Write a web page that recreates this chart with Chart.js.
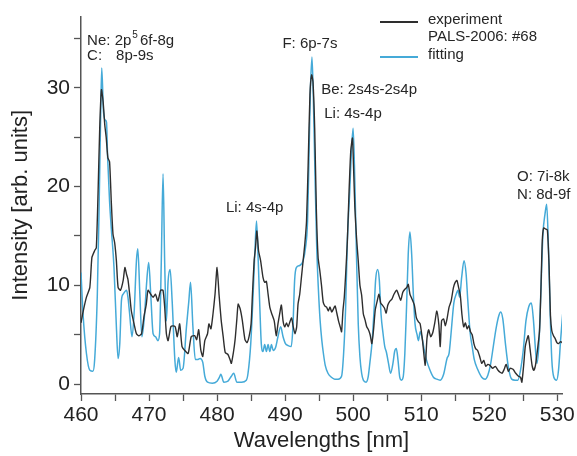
<!DOCTYPE html>
<html>
<head>
<meta charset="utf-8">
<script src="https://cdn.jsdelivr.net/npm/chart.js@4.4.1/dist/chart.umd.min.js"></script>
<style>
body { margin: 0; background: #fff; }
#spec { display: block; }
</style>
</head>
<body>
<canvas id="spec" width="577" height="456"></canvas>
<script>
// experiment, PALS-2006 shot #68
var expWl = [460.0,460.3,460.8,461.3,461.6,462.0,462.25,462.5,462.75,463.0,463.25,463.5,463.7,463.95,464.2,464.45,464.7,464.95,465.2,465.45,465.8,466.2,466.45,466.7,466.9,467.15,467.4,467.8,468.15,468.5,468.9,469.25,469.6,469.85,470.25,470.6,470.95,471.3,471.7,472.05,472.3,472.55,472.8,473.2,473.5,473.85,474.15,474.5,474.85,475.25,475.75,476.2,476.7,477.0,477.3,477.6,477.9,478.2,478.6,478.8,479.1,479.4,479.7,480.0,480.3,480.6,480.9,481.2,481.6,481.9,482.1,482.4,482.65,482.9,483.1,483.4,483.7,484.1,484.4,484.7,485.0,485.2,485.45,485.65,485.85,486.1,486.4,486.75,487.0,487.25,487.5,487.75,488.0,488.4,488.7,488.95,489.2,489.45,489.7,489.95,490.2,490.45,490.7,490.95,491.2,491.45,491.7,491.9,492.15,492.4,492.65,492.9,493.15,493.4,493.65,493.9,494.1,494.35,494.6,494.85,495.1,495.35,495.6,495.85,496.1,496.35,496.6,496.85,497.1,497.35,497.6,497.85,498.1,498.3,498.5,498.7,498.9,499.15,499.4,499.65,499.9,500.05,500.25,500.5,500.75,501.0,501.25,501.5,501.75,502.0,502.25,502.5,502.75,503.0,503.25,503.5,503.8,504.05,504.3,504.6,504.85,505.1,505.4,505.7,506.0,506.4,506.7,507.0,507.3,507.6,507.9,508.1,508.35,508.6,509.0,509.3,509.6,509.85,510.2,510.6,510.85,511.1,511.4,511.7,512.0,512.3,512.6,512.8,513.0,513.3,513.55,513.8,514.1,514.4,514.75,515.0,515.25,515.5,515.75,516.0,516.25,516.5,516.75,517.0,517.25,517.5,517.75,518.0,518.3,518.6,518.9,519.2,519.5,519.8,520.1,520.5,520.9,521.3,521.6,521.9,522.2,522.5,522.8,523.1,523.5,523.9,524.3,524.6,524.8,525.05,525.3,525.5,525.75,526.0,526.3,526.55,526.8,527.1,527.4,527.6,527.8,528.0,528.3,528.55,528.8,529.0,529.2,529.45,529.7,529.95,530.2,530.5,530.9];
var expInt = [6.2,7.3,8.8,9.8,12.8,13.5,13.8,19.2,25.9,29.8,28.6,26.2,25.0,22.9,22.5,18.5,15.2,14.3,12.5,9.8,9.5,10.5,11.8,11.1,10.6,9.1,7.4,6.1,5.1,4.9,5.1,6.8,8.1,9.5,9.1,8.8,9.1,8.4,9.5,9.5,7.8,5.1,4.4,5.8,5.9,5.8,4.8,6.1,3.8,3.4,3.1,4.8,4.9,4.5,5.5,3.5,2.8,4.4,5.1,6.1,5.6,7.1,9.1,11.8,9.0,6.5,4.8,3.2,3.0,2.5,2.1,3.2,4.5,6.5,8.1,7.6,6.5,4.5,4.2,4.8,6.1,9.1,12.5,13.8,15.5,13.5,12.5,10.8,10.3,10.4,9.1,7.8,7.2,6.4,4.9,6.1,7.1,8.0,6.4,5.8,6.2,5.8,6.3,6.7,5.8,5.1,5.8,8.1,9.1,10.8,12.5,14.2,16.5,22.5,29.3,31.3,30.6,25.9,17.5,12.8,11.5,10.0,8.3,7.9,7.8,7.4,7.8,7.3,7.6,7.9,7.2,6.4,5.8,5.3,7.4,8.8,11.1,14.5,19.5,23.6,24.9,22.2,17.9,14.8,12.5,10.0,9.0,7.1,6.5,5.8,5.5,5.0,4.1,5.5,7.5,8.3,9.1,8.2,8.0,7.7,7.2,8.0,8.4,8.6,9.1,9.5,9.0,8.5,9.3,9.6,9.8,10.1,9.1,8.7,8.0,6.7,6.3,6.1,4.4,1.9,4.6,5.5,4.8,5.2,6.2,7.4,6.0,3.8,6.4,6.6,5.9,6.6,7.8,8.4,9.8,10.3,10.5,9.8,9.0,7.0,5.8,6.2,5.6,5.9,5.3,5.0,4.1,3.6,3.4,2.8,2.1,2.4,1.8,2.0,1.9,1.6,1.8,1.4,1.2,1.1,1.5,2.0,1.3,1.6,1.5,1.1,0.8,0.7,0.2,1.8,3.8,4.4,4.9,3.6,1.9,1.4,1.9,3.5,5.4,9.5,14.5,15.8,15.7,15.6,12.0,7.0,5.4,4.9,4.6,4.2,4.1,4.3,4.1];

// fitting
var fitWl = [460.0,460.3,460.8,461.3,461.75,462.0,462.4,462.65,462.9,463.05,463.3,463.6,463.75,463.9,464.2,464.45,464.85,465.2,465.45,465.7,465.95,466.2,466.7,466.9,467.15,467.5,467.8,468.15,468.35,468.65,468.95,469.35,469.6,469.95,470.25,470.6,470.95,471.3,471.55,471.8,472.06,472.3,472.55,472.8,473.1,473.4,473.8,474.0,474.35,474.65,475.0,475.5,475.85,476.1,476.45,476.8,477.2,477.5,477.9,478.2,478.6,479.3,480.0,480.35,480.55,481.0,481.6,482.1,482.45,482.9,483.6,484.3,484.55,484.95,485.3,485.55,485.8,486.05,486.3,486.5,486.75,487.0,487.25,487.5,487.75,488.0,488.25,488.6,488.95,489.35,489.7,490.05,490.45,490.9,491.15,491.4,491.65,492.15,492.65,493.0,493.3,493.5,493.7,493.95,494.15,494.4,494.65,494.9,495.15,495.4,495.65,495.9,496.3,496.8,497.3,497.8,498.3,498.6,498.9,499.15,499.5,499.75,500.0,500.25,500.5,500.75,501.0,501.25,501.5,501.9,502.2,502.45,502.8,503.1,503.3,503.6,503.85,504.1,504.4,504.65,504.9,505.2,505.5,505.85,506.1,506.35,506.6,506.85,507.1,507.35,507.6,507.85,508.1,508.35,508.6,508.85,509.1,509.4,509.6,509.85,510.1,510.45,510.8,511.3,511.8,512.3,512.8,513.3,513.8,514.1,514.3,514.5,514.8,515.2,515.4,515.65,515.95,516.3,516.6,516.85,517.2,517.5,517.8,518.3,518.9,519.4,519.8,520.2,520.6,521.0,521.4,521.7,522.0,522.4,522.8,523.3,523.8,524.2,524.6,525.0,525.4,525.8,526.2,526.5,526.8,527.0,527.3,527.6,527.9,528.2,528.45,528.7,528.95,529.2,529.5,529.9,530.2,530.5,530.8];
var fitInt = [11.3,7.1,3.1,1.4,1.3,2.4,9.1,17.5,27.6,32.0,27.6,26.7,26.5,23.2,18.5,15.8,11.8,5.8,2.6,4.1,8.5,9.1,9.5,8.8,7.1,4.8,7.1,12.5,13.7,9.1,4.8,7.1,9.8,12.3,9.1,5.1,4.8,4.4,5.1,12.3,21.3,12.3,6.4,10.4,11.6,8.4,2.4,1.2,2.7,1.4,1.6,5.8,8.4,10.3,5.8,2.5,2.5,2.6,2.2,0.8,0.2,0.1,0.3,0.7,1.0,0.2,0.3,0.8,1.1,0.2,0.2,0.4,1.1,4.1,9.1,13.2,16.5,12.5,7.5,4.1,3.3,4.0,3.3,4.0,3.3,4.0,3.4,3.7,4.8,5.8,4.8,4.1,3.9,3.8,5.8,10.5,11.8,12.0,12.5,13.8,16.5,22.5,29.3,33.1,29.0,21.0,13.8,9.5,6.4,4.4,3.0,1.9,1.1,0.7,0.5,0.5,0.8,3.1,7.8,14.5,19.5,23.6,25.9,20.5,12.8,6.1,2.75,1.1,0.4,0.2,0.7,2.1,4.4,7.8,10.5,11.6,10.5,7.1,5.1,3.8,3.2,2.1,1.1,2.1,3.3,3.6,2.4,0.7,0.4,0.7,3.1,7.8,13.2,15.4,13.2,9.1,6.1,5.0,4.4,5.3,4.8,3.5,2.4,1.4,0.7,0.5,0.4,1.0,2.6,3.1,4.4,6.0,8.2,9.2,9.5,8.8,10.8,12.5,11.2,8.5,5.2,3.8,2.5,1.5,0.7,0.5,0.9,2.0,3.8,5.6,6.9,7.3,6.6,4.0,1.8,0.5,0.4,0.4,1.4,3.4,6.4,7.8,8.2,6.5,3.5,2.1,4.0,9.5,15.2,17.2,18.2,14.0,7.5,2.5,0.7,0.4,1.5,4.5,7.1];

var xTickLabels = [460, 470, 480, 490, 500, 510, 520, 530];
var yTickLabels = [0, 10, 20, 30];

// line identifications, placed in data units
var notes = [
  {text: 'Ne: 2p', sup: '5', rest: '6f-8g', x: 460.9, y: 34.7},
  {text: 'C:', x: 460.9, y: 33.2},
  {text: '8p-9s', x: 465.15, y: 33.2},
  {text: 'F: 6p-7s', x: 489.6, y: 34.4},
  {text: 'Be: 2s4s-2s4p', x: 495.3, y: 29.8},
  {text: 'Li: 4s-4p', x: 495.75, y: 27.4},
  {text: 'Li: 4s-4p', x: 481.3, y: 17.8},
  {text: 'O: 7i-8k', x: 524.1, y: 21.0},
  {text: 'N: 8d-9f', x: 524.1, y: 19.2}
];

var FONT = '"Liberation Sans", Arial, sans-serif';
var expColor = '#2e2e2e';
var fitColor = '#45aad8';

function pairs(xs, ys) {
  var out = [];
  for (var i = 0; i < xs.length; i++) out.push({x: xs[i], y: ys[i]});
  return out;
}

var extras = {
  id: 'extras',
  afterDatasetsDraw: function(chart) {
    var ctx = chart.ctx;
    var sx = chart.scales.x, sy = chart.scales.y;
    ctx.save();
    ctx.fillStyle = '#262626';
    ctx.textBaseline = 'middle';
    ctx.textAlign = 'left';
    for (var i = 0; i < notes.length; i++) {
      var n = notes[i];
      var px = sx.getPixelForValue(n.x);
      var py = sy.getPixelForValue(n.y);
      ctx.font = '15px ' + FONT;
      ctx.fillText(n.text, px, py);
      if (n.sup) {
        var w = ctx.measureText(n.text).width;
        ctx.font = '10px ' + FONT;
        ctx.fillText(n.sup, px + w + 1, py - 6);
        var w2 = ctx.measureText(n.sup).width;
        ctx.font = '15px ' + FONT;
        ctx.fillText(n.rest, px + w + w2 + 3, py);
      }
    }
    // legend
    ctx.font = '15px ' + FONT;
    ctx.lineWidth = 2;
    ctx.strokeStyle = expColor;
    ctx.beginPath(); ctx.moveTo(380, 22); ctx.lineTo(418, 22); ctx.stroke();
    ctx.strokeStyle = fitColor;
    ctx.beginPath(); ctx.moveTo(380, 57); ctx.lineTo(418, 57); ctx.stroke();
    ctx.fillText('experiment', 428, 20);
    ctx.fillText('PALS-2006: #68', 428, 37);
    ctx.fillText('fitting', 428, 55);
    ctx.restore();
  }
};

Chart.defaults.font.family = FONT;

var config = {
  type: 'line',
  data: {
    datasets: [
      {label: 'experiment', data: pairs(expWl, expInt), borderColor: expColor, borderWidth: 1.4, pointRadius: 0, tension: 0.2, fill: false},
      {label: 'fitting', data: pairs(fitWl, fitInt), borderColor: fitColor, borderWidth: 1.5, pointRadius: 0, cubicInterpolationMode: 'monotone', fill: false}
    ]
  },
  options: {
    responsive: false,
    animation: false,
    layout: {padding: {top: 15, right: 15, left: 0, bottom: 0}},
    plugins: {legend: {display: false}, tooltip: {enabled: false}},
    scales: {
      x: {
        type: 'linear',
        min: 460,
        max: 530.7,
        afterFit: function(s) { s.height = 62; },
        border: {display: true, color: '#555', width: 1.5},
        grid: {drawOnChartArea: false, drawTicks: true, tickLength: 7, color: '#555', tickWidth: 1.3},
        ticks: {
          stepSize: 5, includeBounds: false, autoSkip: false, maxRotation: 0, padding: 2,
          color: '#222', font: {size: 21},
          callback: function(v) { return xTickLabels.indexOf(v) >= 0 ? String(v) : ''; }
        },
        title: {display: true, text: 'Wavelengths [nm]', color: '#222', font: {size: 22}, padding: {top: 2, bottom: 2}}
      },
      y: {
        min: -1,
        max: 37.2,
        afterFit: function(s) { s.width = 81; },
        border: {display: true, color: '#555', width: 1.5},
        grid: {drawOnChartArea: false, drawTicks: true, tickLength: 7, color: '#555', tickWidth: 1.3},
        ticks: {
          stepSize: 5, includeBounds: false, padding: 4,
          color: '#222', font: {size: 21},
          callback: function(v) { return yTickLabels.indexOf(v) >= 0 ? String(v) : ''; }
        },
        title: {display: true, text: 'Intensity [arb. units]', color: '#222', font: {size: 22}, padding: {top: 8, bottom: 0}}
      }
    }
  },
  plugins: [extras]
};

var spectrumChart = new Chart(document.getElementById('spec'), config);
</script>
</body>
</html>
